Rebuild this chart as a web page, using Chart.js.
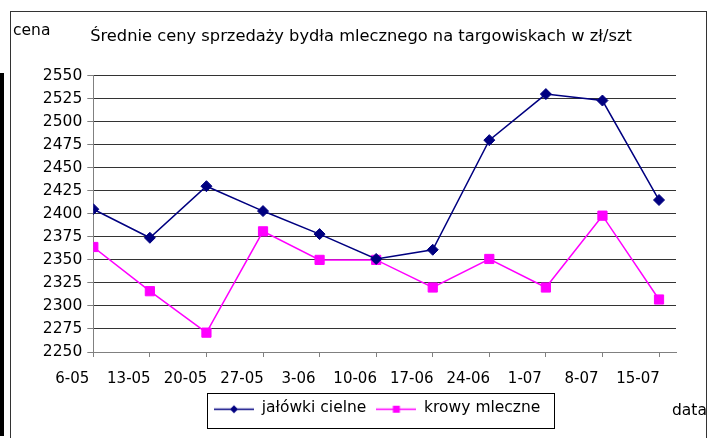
<!DOCTYPE html>
<html><head><meta charset="utf-8">
<script src="https://cdn.jsdelivr.net/npm/chart.js@4.4.0/dist/chart.umd.min.js"></script>
<style>
html,body{margin:0;padding:0;background:#fff;width:709px;height:438px;overflow:hidden;}
#frame{position:absolute;left:10px;top:11px;width:697px;height:450px;border:1px solid #333;box-sizing:border-box;}
#bar{position:absolute;left:0;top:73px;width:4px;height:363px;background:#000;}
.lbl{position:absolute;font-family:"DejaVu Sans";font-size:15.5px;line-height:18px;color:#000;white-space:nowrap;}
#wrap{position:absolute;left:0;top:0;width:709px;height:438px;}
</style></head><body>
<div id="bar"></div><div id="frame"></div>
<div id="wrap"><canvas id="c" width="709" height="438"></canvas></div>
<div class="lbl" style="left:13px;top:21px">cena</div>
<div class="lbl" style="left:672px;top:401px">data</div>
<script>
const dates = ['6-05','13-05','20-05','27-05','3-06','10-06','17-06','24-06','1-07','8-07','15-07'];
const jalowki = [2405,2374,2430,2403,2378,2351,2361,2480,2530,2523,2415];
const krowy = [2364,2316,2271,2381,2350,2350,2320,2351,2320,2398,2307];
const seriesNames = ['jałówki cielne','krowy mleczne'];
const titleText = 'Średnie ceny sprzedaży bydła mlecznego na targowiskach w zł/szt';
const yMin = 2250, yMax = 2550, yStep = 25;

const NAVY = '#000080', PINK = '#FF00FF';
const FONT = 'DejaVu Sans';

function legendImg(color, style) {
  const c = document.createElement('canvas'); c.width = 40; c.height = 16;
  const g = c.getContext('2d');
  g.strokeStyle = color; g.lineWidth = 1.5;
  g.beginPath(); g.moveTo(0, 9.5); g.lineTo(40, 9.5); g.stroke();
  g.fillStyle = color;
  if (style === 'diamond') {
    g.beginPath(); g.moveTo(20, 5.5); g.lineTo(24, 9.5); g.lineTo(20, 13.5); g.lineTo(16, 9.5); g.closePath(); g.fill();
  } else {
    g.fillRect(16.5, 6, 7, 7);
  }
  return c;
}
const legendImgs = [legendImg(NAVY, 'diamond'), legendImg(PINK, 'square')];

const layoutPlugin = {
  id: 'layoutPos',
  afterLayout(chart) {
    const tb = chart.titleBlock;
    const tdx = 361 - (tb.left + tb.right) / 2;
    tb.left += tdx; tb.right += tdx;
    const lg = chart.legend;
    const pad = lg.options.labels.padding;
    const start = (lg.left + pad + lg.right - lg.lineWidths[0]) / 2;
    const dx = 214 - start;
    const dy = 400 - (lg.top + pad);
    lg.left += dx; lg.right += dx; lg.top += dy; lg.bottom += dy;
  },
  afterDraw(chart) {
    const hb = chart.legend.legendHitBoxes;
    if (!hb || !hb.length) return;
    const f = hb[0], l = hb[hb.length - 1];
    const x0 = Math.round(f.left - 7) + 0.5, x1 = Math.round(l.left + l.width + 14) + 0.5;
    const y0 = Math.round(f.top - 7) + 0.5, y1 = y0 + 35;
    const ctx = chart.ctx;
    ctx.save(); ctx.strokeStyle = '#000'; ctx.lineWidth = 1;
    ctx.strokeRect(x0, y0, x1 - x0, y1 - y0);
    ctx.restore();
  }
};

new Chart(document.getElementById('c'), {
  type: 'line',
  data: {
    datasets: [
      { label: seriesNames[0], data: jalowki.map((v, i) => ({x: i, y: v})),
        borderColor: NAVY, backgroundColor: NAVY, borderWidth: 1.5, tension: 0, fill: false,
        pointStyle: 'rectRot', pointRadius: 5.5, pointBorderWidth: 1, pointBackgroundColor: NAVY, pointBorderColor: NAVY },
      { label: seriesNames[1], data: krowy.map((v, i) => ({x: i, y: v})),
        borderColor: PINK, backgroundColor: PINK, borderWidth: 1.5, tension: 0, fill: false,
        pointStyle: 'rect', pointRadius: 6.5, pointBorderWidth: 1, pointBackgroundColor: PINK, pointBorderColor: PINK }
    ]
  },
  options: {
    responsive: false, animation: false, events: [],
    layout: { padding: { left: 26, right: 33, top: 0, bottom: 14.5 } },
    plugins: {
      tooltip: { enabled: false },
      title: { display: true, text: titleText, color: '#000',
        font: { family: FONT, size: 16.3, weight: 'normal', lineHeight: 1.2 }, padding: { top: 26.5, bottom: 29.6 } },
      legend: { position: 'bottom',
        labels: { usePointStyle: true, pointStyleWidth: 40, padding: 10, color: '#000',
          font: { family: FONT, size: 15.5 },
          generateLabels(chart) {
            const items = Chart.defaults.plugins.legend.labels.generateLabels(chart);
            items.forEach(it => { it.pointStyle = legendImgs[it.datasetIndex]; });
            return items;
          } } }
    },
    scales: {
      x: { type: 'linear', min: 0, max: 10.3,
        afterBuildTicks(s) { s.ticks = dates.map((_, i) => ({ value: i })); },
        afterFit(s) { s.height = 36; },
        grid: { drawOnChartArea: false, drawTicks: true, tickLength: 5, tickColor: '#808080' },
        border: { color: '#808080', width: 1 },
        ticks: { stepSize: 1, includeBounds: false, autoSkip: false, maxRotation: 0, minRotation: 0,
          labelOffset: -21, padding: 13, color: '#000', font: { family: FONT, size: 15 },
          callback: v => dates[v] !== undefined ? dates[v] : '' } },
      y: { min: yMin, max: yMax,
        afterFit(s) { s.width = 67.3; },
        grid: { color: '#333', tickColor: '#808080', tickLength: 6, drawTicks: true },
        border: { color: '#808080', width: 1 },
        ticks: { stepSize: yStep, padding: 5, color: '#000', font: { family: FONT, size: 15.5 },
          callback: v => String(v) } }
    }
  },
  plugins: [layoutPlugin]
});
</script>
</body></html>
